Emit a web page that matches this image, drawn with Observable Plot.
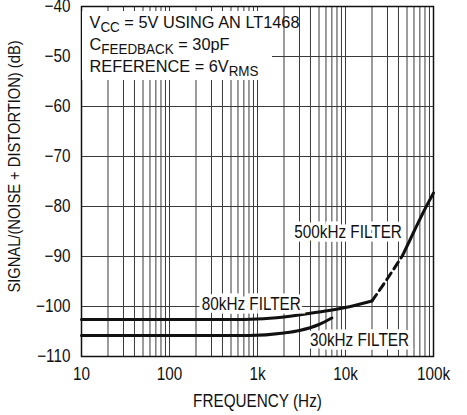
<!DOCTYPE html>
<html>
<head>
<meta charset="utf-8">
<script src="https://cdn.jsdelivr.net/npm/d3@7"></script>
<script src="https://cdn.jsdelivr.net/npm/@observablehq/plot@0.6"></script>
<style>
  html, body { margin: 0; padding: 0; background: #fff; }
  svg { display: block; }
</style>
</head>
<body>
<div id="chart"></div>
<script>
const FONT = "'Liberation Sans', Arial, Helvetica, sans-serif";
const CONDENSE = 0.85;       // horizontal squeeze to mimic Helvetica Condensed
const NOTE_CONDENSE = 0.96;

// Axis ticks
const freqTicks = [10, 100, 1000, 10000, 100000];
const freqTickLabels = ["10", "100", "1k", "10k", "100k"];
const dbTicks = [-110, -100, -90, -80, -70, -60, -50, -40];
const gridFreqs = [];
for (const decade of [10, 100, 1000, 10000]) for (const m of [1,2,3,4,5,6,7,8,9]) gridFreqs.push(decade * m);
gridFreqs.push(100000);

// 80kHz filter (solid)
const f80 = [10, 100, 500, 1000, 2000, 5000, 10000, 20000];
const db80 = [-102.6, -102.6, -102.6, -102.5, -102.1, -101.1, -100.2, -98.9];
// 500kHz filter (dashed segment then solid)
const f500dash = [20000, 30000, 44500];
const db500dash = [-98.9, -94.4, -89.8];
const f500 = [44500, 60000, 80000, 100000];
const db500 = [-89.8, -85.0, -80.5, -77.3];
// 30kHz filter
const f30 = [10, 100, 800, 2000, 3000, 5000, 7000];
const db30 = [-105.8, -105.8, -105.8, -105.3, -104.8, -103.6, -102.3];

// Curve labels
const labelText = ["80kHz FILTER", "30kHz FILTER", "500kHz FILTER"];
const labelFreq = [850, 14400, 10700];
const labelDb = [-99.5, -106.8, -85.1];

// Conditions note
const noteLines = [
  [["V", 0], ["CC", 1], [" = 5V USING AN LT1468", 0]],
  [["C", 0], ["FEEDBACK", 1], [" = 30pF", 0]],
  [["REFERENCE = 6V", 0], ["RMS", 1]]
];

const M = {left: 81, right: 34, top: 6, bottom: 59};
const toRows = (fs, ds) => fs.map((f, i) => ({f, db: ds[i]}));
const labels = labelText.map((t, i) => ({t, f: labelFreq[i], db: labelDb[i]}));
const tickLabel = new Map(freqTicks.map((f, i) => [f, freqTickLabels[i]]));

const plot = Plot.plot({
  width: 467,
  height: 415,
  marginLeft: M.left,
  marginRight: M.right,
  marginTop: M.top,
  marginBottom: M.bottom,
  style: {fontFamily: FONT, fontSize: "18px", color: "#111", background: "#fff"},
  x: {type: "log", domain: [10, 100000], axis: null},
  y: {domain: [-110, -40], axis: null},
  marks: [
    Plot.ruleX(gridFreqs, {stroke: "#3a3a3a", strokeWidth: 1}),
    Plot.ruleY(dbTicks, {stroke: "#3a3a3a", strokeWidth: 1}),
    Plot.line(toRows(f80, db80), {x: "f", y: "db", stroke: "#111", strokeWidth: 3, curve: "monotone-x"}),
    Plot.line(toRows(f30, db30), {x: "f", y: "db", stroke: "#111", strokeWidth: 3, curve: "monotone-x"}),
    Plot.line(toRows(f500dash, db500dash), {x: "f", y: "db", stroke: "#111", strokeWidth: 3, strokeDasharray: "8,5", curve: "monotone-x"}),
    Plot.line(toRows(f500, db500), {x: "f", y: "db", stroke: "#111", strokeWidth: 3, curve: "monotone-x"}),
    Plot.text(labels, {x: "f", y: "db", text: "t", fontSize: 18, fill: "#111", stroke: "white", strokeWidth: 7, strokeLinejoin: "miter", paintOrder: "stroke"}),
    Plot.frame({stroke: "#111", strokeWidth: 1.5}),
    Plot.axisX(freqTicks, {tickFormat: d => tickLabel.get(d), tickSize: 0, tickPadding: 11, fontSize: 18, label: null}),
    Plot.axisY(dbTicks, {tickSize: 0, tickPadding: 11, fontSize: 18, label: null}),
    Plot.text(["FREQUENCY (Hz)"], {frameAnchor: "bottom", dy: 45, lineAnchor: "middle", textAnchor: "middle", fontSize: 18, fill: "#111"}),
    Plot.text(["SIGNAL/(NOISE + DISTORTION) (dB)"], {frameAnchor: "left", dx: -67, dy: -15, rotate: -90, textAnchor: "middle", lineAnchor: "middle", fontSize: 17.3, fill: "#111"})
  ]
});

// Squeeze every Plot text horizontally around its own anchor
d3.select(plot).selectAll("text").each(function () {
  const tr = this.getAttribute("transform") || "";
  this.setAttribute("transform", `${tr} scale(${CONDENSE},1)`);
});

// Annotation box in upper left (rich text with subscripts)
const svgSel = d3.select(plot);
const noteG = svgSel.append("g").style("font-family", FONT).attr("fill", "#111").attr("text-anchor", "start");
noteG.append("rect").attr("x", M.left + 1).attr("y", M.top + 5).attr("width", 190).attr("height", 69).attr("fill", "white");
const noteX = M.left + 8.5;
const noteText = noteG.append("g").attr("transform", `translate(${noteX},0) scale(${NOTE_CONDENSE},1)`);
noteLines.forEach((parts, i) => {
  const t = noteText.append("text").attr("x", 0).attr("y", M.top + 22.5 + i * 21.8)
    .style("font-size", "17px").attr("text-anchor", "start");
  let shifted = false;
  parts.forEach(([s, sub]) => {
    const ts = t.append("tspan").text(s);
    if (sub) { ts.style("font-size", "14px").attr("dy", 3.5); shifted = true; }
    else if (shifted) { ts.attr("dy", -3.5); shifted = false; }
  });
});
document.getElementById("chart").appendChild(plot);
</script>
</body>
</html>
